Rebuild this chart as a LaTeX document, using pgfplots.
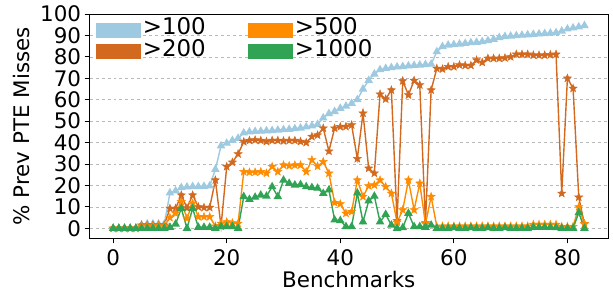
\documentclass[border=0pt]{standalone}
\usepackage{fontspec}
\setmainfont{DejaVu Sans}
\usepackage{pgfplots}
\usepackage{pgfplotstable}
\pgfplotsset{compat=1.18}
\definecolor{cA}{HTML}{9ECAE1}
\definecolor{cB}{HTML}{D2691E}
\definecolor{cC}{HTML}{FF8C00}
\definecolor{cD}{HTML}{31A354}
\pgfdeclareplotmark{fstar}{%
  \pgfpathmoveto{\pgfqpointpolar{90}{\pgfplotmarksize}}%
  \pgfpathlineto{\pgfqpointpolar{126}{0.42\pgfplotmarksize}}%
  \pgfpathlineto{\pgfqpointpolar{162}{\pgfplotmarksize}}%
  \pgfpathlineto{\pgfqpointpolar{198}{0.42\pgfplotmarksize}}%
  \pgfpathlineto{\pgfqpointpolar{234}{\pgfplotmarksize}}%
  \pgfpathlineto{\pgfqpointpolar{270}{0.42\pgfplotmarksize}}%
  \pgfpathlineto{\pgfqpointpolar{306}{\pgfplotmarksize}}%
  \pgfpathlineto{\pgfqpointpolar{342}{0.42\pgfplotmarksize}}%
  \pgfpathlineto{\pgfqpointpolar{18}{\pgfplotmarksize}}%
  \pgfpathlineto{\pgfqpointpolar{54}{0.42\pgfplotmarksize}}%
  \pgfpathclose
  \pgfusepathqfillstroke
}
\pgfplotstableread{
i A B C D
0 0 0 0 0
1 0 0 0 0
2 0 0 0 0
3 0 0 0 0
4 0 0 0 0
5 1.5 1.5 1 0
6 2 1.5 1 0
7 2 1.5 1 0
8 2 1.5 1 0
9 2 1.5 1 0
10 16.5 9.3 5 0.5
11 17.5 9.3 7 2
12 19 15.5 12.4 9.3
13 19.3 9.5 4.7 0
14 19.5 15.5 11.7 9.3
15 19.5 10 5.4 0.5
16 19.6 9.7 5.4 0.5
17 19.8 9.7 5.4 0.5
18 27.5 22.5 1 0
19 38.5 1 2.3 0.8
20 39.7 28.8 3 0.8
21 41 30.8 2.5 0.8
22 42 34.7 2.3 0
23 44.5 40.4 26.4 14.8
24 45 41 26.2 13.5
25 45.2 41.2 26.2 14.5
26 45.3 41 26.4 15.5
27 45.5 40.5 25.7 15
28 45.6 41 28.8 19.4
29 45.8 41 26.4 14.8
30 46 40.8 29.5 22.5
31 46.2 41 29.2 21
32 46.5 41 29.5 20.2
33 46.8 40.5 29.5 20.4
34 47.3 40 26.4 19.4
35 47.8 42.8 31.9 19
36 48.5 43.5 29 18.7
37 51.5 46.7 31.1 16.3
38 53.5 36 25.7 17.9
39 54.5 46.7 12 3.9
40 56 47.4 11.4 3.6
41 57 47.5 7 0.8
42 58.3 48.2 7.8 0.8
43 60 32.5 22.5 16.5
44 65 53.7 14.8 3
45 69 28 19.8 12.8
46 72 25.7 20.2 15
47 74 62.6 22.5 3
48 74.6 60.3 19.4 6.5
49 75 64.5 16.3 1.5
50 75.3 3.5 2.8 0
51 75.5 68.8 8.6 0.3
52 75.8 62.2 22.5 7
53 76 69 8.6 0.8
54 76.2 66.9 21 0.8
55 76.4 2.5 2 0.5
56 76.6 64.5 14.8 1.5
57 82.4 74.6 0.8 0
58 84.8 74.3 1 0
59 85.5 75.4 1 0
60 85.7 75.4 1 0.3
61 86 76.2 1 0
62 86.3 76 1 0
63 86.6 76 1 0.3
64 86.8 78.5 1 0
65 87.1 77.4 1 0
66 87.6 79.3 1 0.3
67 88.2 79.3 1 0
68 89 79.3 1 0
69 89.5 79.5 1 0.3
70 89.7 80 1 0
71 89.9 81.2 1 0
72 90.1 81.2 1 0
73 90.3 81.2 1 0
74 90.5 80.8 1.8 0.5
75 90.7 80.8 1.8 0.5
76 90.9 80.8 1.8 0.5
77 91.1 81 1.8 0.5
78 91.3 81.2 1.8 0.3
79 92 16.3 0.8 0
80 93 70 0.8 0
81 93.5 65.3 0.8 0
82 94 14.5 10 7.3
83 94.6 2 2 0
}\data
\begin{document}
\begin{tikzpicture}
\begin{axis}[
  scale only axis, width=518.4bp, height=224.4bp,
  xmin=-4.15, xmax=87.15, ymin=-4.7, ymax=100,
  xtick={0,20,40,60,80}, ytick={0,10,...,100},
  tick align=outside, major tick length=5bp,
  tick style={black, line width=0.8bp},
  xtick pos=bottom, ytick pos=left,
  axis line style={black, line width=0.8bp},
  ymajorgrids, grid style={gray!55, dashed, line width=0.6bp},
  /pgf/number format/assume math mode=true,
  tick label style={font=\fontsize{21.5}{25}\selectfont},
  x tick label style={yshift=-3bp},
  label style={font=\fontsize{21.5}{25}\selectfont},
  xlabel={Benchmarks},
  ylabel={\% Prev PTE Misses},
  x label style={at={(axis description cs:0.5,-0.221)}, anchor=base},
  y label style={at={(axis description cs:-0.1305,0.5)}, anchor=center, rotate=0},
  legend columns=2, transpose legend,
  legend style={draw=none, fill=none, at={(axis description cs:0.006,1.003)}, anchor=north west,
    font=\fontsize{23}{26}\selectfont, row sep=-1bp,
    nodes={inner sep=2bp, anchor=base west},
    /tikz/every even column/.append style={column sep=40bp}},
  legend image code/.code={\fill[#1, draw=none] (0bp,-3bp) rectangle (45bp,12bp);},
  every axis plot/.append style={line width=1.4bp},
]
\addplot[cA, mark=triangle*, mark size=3.6bp, mark options={solid}] table[x=i,y=A] {\data};
\addlegendentry{>100}
\addplot[cB, mark=fstar, mark size=4.2bp, mark options={solid, line width=0.5bp}] table[x=i,y=B] {\data};
\addlegendentry{>200}
\addplot[cC, mark=fstar, mark size=4.2bp, mark options={solid, line width=0.5bp}] table[x=i,y=C] {\data};
\addlegendentry{>500}
\addplot[cD, mark=triangle*, mark size=3.6bp, mark options={solid}] table[x=i,y=D] {\data};
\addlegendentry{>1000}
\end{axis}
\pgfresetboundingbox
\path (-89.6bp,-56.6bp) rectangle (523.4bp,238.4bp);
\end{tikzpicture}
\end{document}
